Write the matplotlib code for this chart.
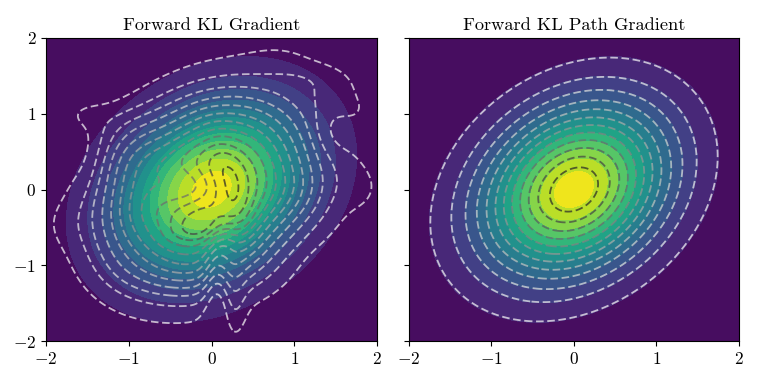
import numpy as np
import matplotlib
matplotlib.use("Agg")
import matplotlib.pyplot as plt

plt.rcParams['font.family'] = ['cmr10', 'DejaVu Serif']
plt.rcParams['mathtext.fontset'] = 'cm'
plt.rcParams['axes.unicode_minus'] = False

titles = ["Forward KL Gradient", "Forward KL Path Gradient"]
tick_values = [-2, -1, 0, 1, 2]
tick_labels = ["$-2$", "$-1$", "$0$", "$1$", "$2$"]
levels = [0.0, 0.0215, 0.043, 0.0645, 0.086, 0.1075, 0.129, 0.1505, 0.172, 0.1935, 0.215, 0.2365, 0.258, 0.2795]

# target density parameters
target_sigma = 0.78
target_rho = 0.25
right_sigma = 0.77
right_rho = 0.25

# corrections
bump_amp = [0.014, 0.010, -0.010, 0.008, 0.008, 0.012, -0.022, 0.012, -0.005, 0.024, 0.033, -0.070, -0.042, 0.022,
            0.030, 0.030, 0.012, 0.035, 0.015, 0.012, 0.006, -0.020]
bump_x   = [-1.55, -1.05, -1.50, -1.80, 1.70, 1.10, 1.45, 1.85, 1.16, 0.26, -0.16, -0.25, 0.06, 0.28,
            -1.05, -0.35, -0.10, -0.95, 1.00, 1.50, 0.85, 0.18]
bump_y   = [1.00, 0.85, 0.40, -0.45, 1.05, 1.50, 0.75, 0.00, -0.89, -0.03, -0.52, 0.03, -1.15, -1.55,
            -0.35, -1.05, 1.00, 0.45, -0.05, 1.35, 1.80, -0.65]
bump_sx  = [0.22, 0.35, 0.16, 0.25, 0.20, 0.30, 0.20, 0.20, 0.25, 0.20, 0.28, 0.30, 0.11, 0.10,
            0.30, 0.50, 0.60, 0.30, 0.30, 0.25, 0.30, 0.10]
bump_sy  = [0.15, 0.20, 0.30, 0.25, 0.15, 0.15, 0.25, 0.25, 0.25, 0.48, 0.15, 0.20, 0.50, 0.35,
            0.50, 0.25, 0.30, 0.30, 0.25, 0.20, 0.12, 0.20]
bump_rho = [0.0, 0.0, 0.0, 0.0, 0.0, 0.0, 0.0, 0.0, 0.0, -0.6, 0.4, 0.0, 0.0, 0.0,
            0.0, 0.0, 0.0, 0.0, 0.0, 0.0, 0.0, 0.0]


def gaussian(X, Y, s, r):
    q = (X**2 - 2*r*X*Y + Y**2) / (1 - r**2) / s**2
    return np.exp(-q/2) / (2*np.pi*s**2*np.sqrt(1 - r**2))


x = np.linspace(-2, 2, 300)
X, Y = np.meshgrid(x, x)
target = gaussian(X, Y, target_sigma, target_rho)
right = gaussian(X, Y, right_sigma, right_rho)
left = gaussian(X, Y, target_sigma, target_rho)
for a, bx, by, sx, sy, br in zip(bump_amp, bump_x, bump_y, bump_sx, bump_sy, bump_rho):
    u, v = (X-bx)/sx, (Y-by)/sy
    left = left + a*np.exp(-(u**2 - 2*br*u*v + v**2)/(2*(1 - br**2)))
left = np.clip(left, 0, None)

W, H = 761, 381
fig = plt.figure(figsize=(W/100, H/100), dpi=100)
boxes = [(46, 377), (409, 739)]
top, bottom = 38, 341
for i, ((x0, x1), title, est) in enumerate(zip(boxes, titles, [left, right])):
    ax = fig.add_axes([x0/W, 1 - bottom/H, (x1-x0)/W, (bottom-top)/H])
    ax.contourf(X, Y, target, levels=levels, cmap='viridis', vmin=0.002, vmax=0.276)
    ax.contour(X, Y, est, levels=levels[1:-1], cmap='Greys', vmin=0.0, vmax=0.30,
               linestyles=[(0, (4.2, 2.0))], linewidths=1.3, alpha=0.72)
    ax.set_xlim(-2, 2)
    ax.set_ylim(-2, 2)
    ax.set_xticks(tick_values)
    ax.set_xticklabels(tick_labels, fontsize=12.5)
    ax.set_yticks(tick_values)
    ax.set_yticklabels(tick_labels if i == 0 else [], fontsize=12.5)
    ax.tick_params(length=3.5, pad=3.5)
    ax.set_title(title, fontsize=13.2, pad=6)

fig.savefig("out.png", dpi=100)
